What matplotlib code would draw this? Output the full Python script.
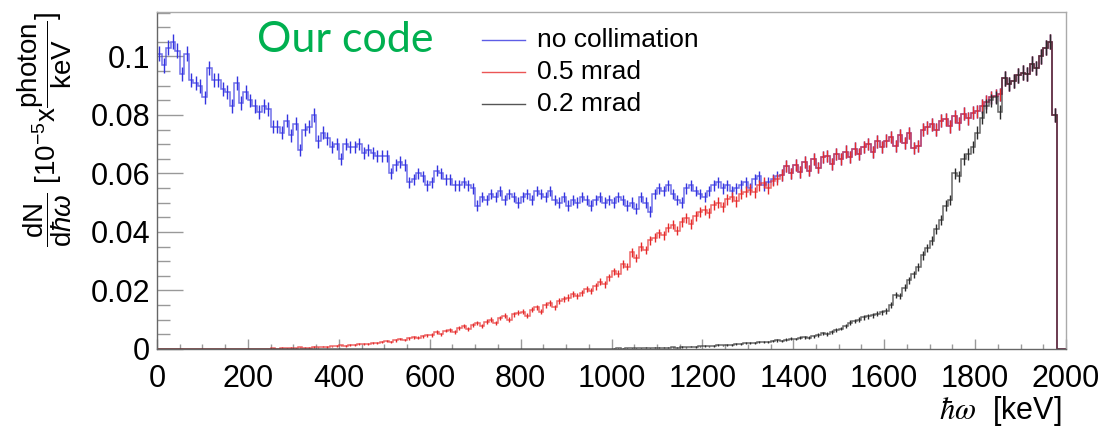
import numpy as np
import matplotlib
matplotlib.use("Agg")
import matplotlib.pyplot as plt
from matplotlib.ticker import MultipleLocator, FuncFormatter
from matplotlib.lines import Line2D

# binning of the photon energy spectra (keV)
E_MIN = 0
E_MAX = 2000
BIN_WIDTH = 10

# no collimation, bins 0..136 (0-1370 keV); above that it follows the 0.5 mrad curve
blue_own = [
    0.101, 0.097, 0.103, 0.105, 0.102, 0.094, 0.101, 0.092, 0.091, 0.090,
    0.086, 0.096, 0.092, 0.092, 0.089, 0.088, 0.083, 0.091, 0.084, 0.088,
    0.085, 0.083, 0.081, 0.083, 0.082, 0.076, 0.076, 0.074, 0.078, 0.073,
    0.077, 0.068, 0.075, 0.076, 0.080, 0.071, 0.074, 0.072, 0.069, 0.070,
    0.065, 0.070, 0.069, 0.069, 0.070, 0.067, 0.068, 0.067, 0.066, 0.066,
    0.066, 0.060, 0.063, 0.064, 0.063, 0.057, 0.058, 0.060, 0.059, 0.056,
    0.057, 0.061, 0.060, 0.058, 0.058, 0.056, 0.056, 0.057, 0.056, 0.055,
    0.049, 0.052, 0.051, 0.053, 0.052, 0.054, 0.051, 0.053, 0.052, 0.050,
    0.052, 0.053, 0.051, 0.054, 0.053, 0.052, 0.054, 0.051, 0.050, 0.052,
    0.049, 0.051, 0.050, 0.052, 0.051, 0.049, 0.051, 0.052, 0.050, 0.051,
    0.050, 0.052, 0.051, 0.049, 0.050, 0.048, 0.052, 0.050, 0.047, 0.053,
    0.055, 0.054, 0.056, 0.053, 0.051, 0.050, 0.055, 0.056, 0.054, 0.053,
    0.052, 0.054, 0.056, 0.057, 0.055, 0.056, 0.054, 0.055, 0.056, 0.057,
    0.055, 0.058, 0.059, 0.056, 0.057, 0.058, 0.059,
]
BLUE_START_SHARED = 137

# 0.5 mrad, bins 25..185 (250-1860 keV); above that it follows the 0.2 mrad curve
RED_FIRST_BIN = 25
red_own = [
    0.0003, 0.0000, 0.0004, 0.0002, 0.0005,
    0.0003, 0.0006, 0.0004, 0.0005, 0.0007, 0.0006, 0.0008, 0.0007, 0.0009, 0.0010,
    0.0012, 0.0011, 0.0014, 0.0013, 0.0016, 0.0018, 0.0017, 0.0021, 0.0020, 0.0024,
    0.0027, 0.0025, 0.0030, 0.0034, 0.0031, 0.0036, 0.0040, 0.0038, 0.0044, 0.0047,
    0.0048, 0.0058, 0.0050, 0.0063, 0.0066, 0.0058, 0.0072, 0.0078, 0.0068, 0.0083,
    0.0088, 0.0078, 0.0094, 0.0100, 0.0088, 0.0106, 0.0113, 0.0100, 0.0118, 0.0124,
    0.0128, 0.0114, 0.0135, 0.0142, 0.0128, 0.0150, 0.0158, 0.0142, 0.0165, 0.0172,
    0.0176, 0.0188, 0.0180, 0.0192, 0.0205, 0.0198, 0.0215, 0.0230, 0.0222, 0.0245,
    0.0265, 0.0258, 0.0290, 0.0282, 0.0330, 0.0312, 0.0350, 0.0338, 0.0372, 0.0380,
    0.0395, 0.0388, 0.0415, 0.0425, 0.0405, 0.0435, 0.0448, 0.0428, 0.0455, 0.0468,
    0.0475, 0.0465, 0.0492, 0.0500, 0.0485, 0.0512, 0.0520, 0.0505, 0.0530, 0.0538,
    0.0545, 0.0535, 0.0560, 0.0568, 0.0550, 0.0575, 0.0580, 0.0595, 0.0625, 0.0600,
    0.0628, 0.0605, 0.0638, 0.0610, 0.0648, 0.0620, 0.0655, 0.0660, 0.0632, 0.0668,
    0.0650, 0.0675, 0.0655, 0.0685, 0.0665, 0.0690, 0.0700, 0.0672, 0.0710, 0.0690,
    0.0712, 0.0725, 0.0695, 0.0730, 0.0705, 0.0738, 0.0688, 0.0695, 0.0750, 0.0758,
    0.0768, 0.0750, 0.0780, 0.0785, 0.0762, 0.0795, 0.0772, 0.0805, 0.0788, 0.0808,
    0.0812, 0.0830, 0.0845, 0.0860, 0.0865, 0.0870,
]

# 0.2 mrad, bins 100..197 (1000-1980 keV)
BLACK_FIRST_BIN = 100
black_own = [
    0.0001, 0.0002, 0.0001, 0.0002, 0.0003, 0.0002, 0.0003, 0.0004, 0.0003, 0.0004,
    0.0004, 0.0005, 0.0004, 0.0006, 0.0005, 0.0007, 0.0006, 0.0008, 0.0007, 0.0009,
    0.0010, 0.0009, 0.0011, 0.0013, 0.0012, 0.0015, 0.0014, 0.0017, 0.0016, 0.0019,
    0.0021, 0.0020, 0.0023, 0.0025, 0.0024, 0.0027, 0.0030, 0.0028, 0.0032, 0.0035,
    0.0034, 0.0038, 0.0041, 0.0039, 0.0044, 0.0048, 0.0053, 0.0051, 0.0058, 0.0064,
    0.0070, 0.0080, 0.0090, 0.0095, 0.0100, 0.0108, 0.0112, 0.0115, 0.0120, 0.0125,
    0.0130, 0.0150, 0.0185, 0.0180, 0.0210, 0.0235, 0.0255, 0.0280, 0.0320, 0.0345,
    0.0370, 0.0410, 0.0440, 0.0490, 0.0510, 0.0600, 0.0590, 0.0650, 0.0665, 0.0690,
    0.0740, 0.0790, 0.0830, 0.0850, 0.0860, 0.0810, 0.0925, 0.0905, 0.0915, 0.0935,
    0.0945, 0.0940, 0.0975, 0.0960, 0.1000, 0.1030, 0.1050, 0.0800,
]

# statistical error: err = ERR_SCALE * sqrt(content)
ERR_SCALE = 0.008

labels = ["no collimation", "0.5 mrad", "0.2 mrad"]
colors = ["#3434e0", "#e62a2a", "#2a2a2a"]

# build the full histograms
edges = np.arange(E_MIN, E_MAX + BIN_WIDTH, BIN_WIDTH)
n_bins = len(edges) - 1
centers = 0.5 * (edges[:-1] + edges[1:])

black = np.zeros(n_bins)
black[BLACK_FIRST_BIN:BLACK_FIRST_BIN + len(black_own)] = black_own

red = np.zeros(n_bins)
red_end = RED_FIRST_BIN + len(red_own)
red[RED_FIRST_BIN:red_end] = red_own
red[red_end:] = black[red_end:]

blue = np.zeros(n_bins)
blue[:len(blue_own)] = blue_own
blue[BLUE_START_SHARED:] = red[BLUE_START_SHARED:]

plt.rcParams['font.family'] = ['Liberation Sans', 'DejaVu Sans']
plt.rcParams['mathtext.fontset'] = 'custom'
plt.rcParams['mathtext.rm'] = 'Liberation Sans'
plt.rcParams['mathtext.it'] = 'Liberation Sans:italic'
plt.rcParams['mathtext.fallback'] = 'stix'

fig = plt.figure(figsize=(11.08, 4.30), dpi=100)
ax = fig.add_axes([157 / 1108, 81 / 430, 909 / 1108, 337 / 430])

for vals, col in zip([blue, red, black], colors):
    ax.stairs(vals, edges, color=col, lw=1.1, alpha=0.7, zorder=2)
    m = vals > 0
    ax.errorbar(centers[m], vals[m], yerr=ERR_SCALE * np.sqrt(vals[m]), fmt='none',
                ecolor=col, elinewidth=1.0, capsize=0, zorder=2)

ax.set_xlim(E_MIN, E_MAX)
ax.set_ylim(0, 0.1152)

ax.xaxis.set_major_locator(MultipleLocator(200))
ax.xaxis.set_minor_locator(MultipleLocator(50))
ax.yaxis.set_major_locator(MultipleLocator(0.02))
ax.yaxis.set_minor_locator(MultipleLocator(0.005))
ax.yaxis.set_major_formatter(FuncFormatter(lambda v, p: f'{v:g}'))

ax.tick_params(which='both', direction='in', colors='#999999', labelcolor='black',
               labelsize=22, top=False, right=False)
ax.tick_params(axis='x', which='major', length=7, width=1, pad=11)
ax.tick_params(axis='x', which='minor', length=3.5, width=1)
ax.tick_params(axis='y', which='major', length=19, width=1, pad=5)
ax.tick_params(axis='y', which='minor', length=9.5, width=1)

for side in ['top', 'right']:
    ax.spines[side].set_color('#aaaaaa')
for side in ['left', 'bottom']:
    ax.spines[side].set_color('#666666')
for sp in ax.spines.values():
    sp.set_linewidth(1.0)
    sp.set_zorder(3)

# axis titles
fig.text(1062 / 1108, 2 / 430, r'$\hbar\omega$  [keV]', ha='right', va='bottom',
         fontsize=22, math_fontfamily='stix')
fig.text(45 / 1108, 418 / 430,
         r'$\dfrac{\mathrm{dN}}{\mathrm{d}\hbar\omega}$ [10$^{-5}$x$\dfrac{\mathrm{photon}}{\mathrm{keV}}$]',
         rotation=90, ha='center', va='top', fontsize=20)

# annotation
fig.text(257 / 1108, (430 - 52) / 430, 'Our code', color='#00b050', fontsize=31,
         family='Lato', ha='left', va='baseline')

# legend
for k, (lab, col) in enumerate(zip(labels, colors)):
    yy = (430 - 40 - 32 * k) / 430
    fig.add_artist(Line2D([482 / 1108, 525 / 1108], [yy, yy], color=col, lw=1.0,
                          alpha=0.8, transform=fig.transFigure))
    fig.text(537 / 1108, yy, lab, fontsize=19, ha='left', va='center')

fig.savefig('out.png', dpi=100)
